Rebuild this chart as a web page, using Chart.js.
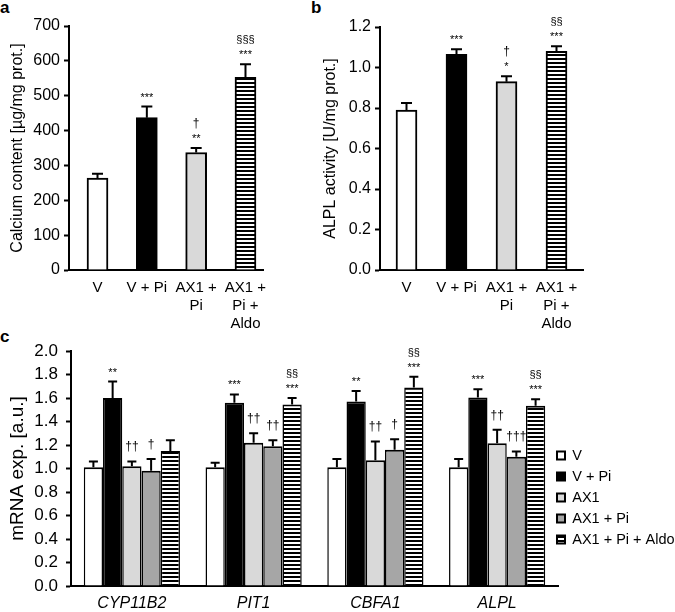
<!DOCTYPE html>
<html>
<head>
<meta charset="utf-8">
<script src="https://cdn.jsdelivr.net/npm/chart.js@4/dist/chart.umd.min.js"></script>
<style>
html,body{margin:0;padding:0;background:#fff;width:675px;height:612px;overflow:hidden;position:relative;font-family:'Liberation Sans',Arial,sans-serif}
canvas{position:absolute}
.lbl{position:absolute;font-weight:bold;font-size:17px;line-height:17px;color:#000}
</style>
</head>
<body>
<div class="lbl" style="left:0px;top:-1px">a</div>
<div class="lbl" style="left:311px;top:-1px">b</div>
<div class="lbl" style="left:0px;top:328px">c</div>
<canvas id="ca" width="300" height="335" style="left:0;top:0"></canvas>
<canvas id="cb" width="300" height="335" style="left:305px;top:0"></canvas>
<canvas id="cc" width="675" height="282" style="left:0;top:330px"></canvas>
<script>
// ---------------- data ----------------
const groupLabels = ['V', 'V + Pi', ['AX1 +', 'Pi'], ['AX1 +', 'Pi +', 'Aldo']];

const calciumMean = [264, 437, 337, 553];
const calciumSem  = [12, 32, 13, 37];
const calciumSig  = [[], ['***'], ['**', '†'], ['***', '§§§']];

const alplMean = [0.79, 1.065, 0.93, 1.08];
const alplSem  = [0.035, 0.025, 0.027, 0.025];
const alplSig  = [[], ['***'], ['*', '†'], ['***', '§§']];

const genes = ['CYP11B2', 'PIT1', 'CBFA1', 'ALPL'];
const seriesNames = ['V', 'V + Pi', 'AX1', 'AX1 + Pi', 'AX1 + Pi + Aldo'];

const mrnaV       = [1.01, 1.01, 1.01, 1.01];
const mrnaVPi     = [1.60, 1.56, 1.57, 1.605];
const mrnaAX1     = [1.02, 1.22, 1.07, 1.215];
const mrnaAX1Pi   = [0.98, 1.19, 1.16, 1.10];
const mrnaAldo    = [1.15, 1.545, 1.69, 1.535];

const semV     = [0.05, 0.04, 0.07, 0.07];
const semVPi   = [0.14, 0.07, 0.09, 0.07];
const semAX1   = [0.04, 0.08, 0.16, 0.115];
const semAX1Pi = [0.10, 0.05, 0.09, 0.045];
const semAldo  = [0.09, 0.055, 0.09, 0.055];

const sigV     = [[], [], [], []];
const sigVPi   = [['**'], ['***'], ['**'], ['***']];
const sigAX1   = [['††'], ['††'], ['††'], ['††']];
const sigAX1Pi = [['†'], ['††'], ['†'], ['†††']];
const sigAldo  = [[], ['***', '§§'], ['***', '§§'], ['***', '§§']];

// ---------------- styling ----------------
const FONT = "'Liberation Sans', Arial, sans-serif";
Chart.defaults.font.family = FONT;
Chart.defaults.color = '#000';
Chart.defaults.animation = false;

function makeHatch() {
  const c = document.createElement('canvas');
  c.width = 8; c.height = 4;
  const g = c.getContext('2d');
  g.fillStyle = '#fff'; g.fillRect(0, 0, 8, 4);
  g.fillStyle = '#000'; g.fillRect(0, 2, 8, 2);
  return g.createPattern(c, 'repeat');
}
const hatch = makeHatch();
const WHITE = '#ffffff', BLACK = '#000000', LGREY = '#d9d9d9', MGREY = '#a6a6a6';

// error bars + significance labels
const errSig = {
  id: 'errSig',
  afterDatasetsDraw(chart, args, opts) {
    const ctx = chart.ctx;
    const ys = chart.scales.y;
    chart.data.datasets.forEach((ds, di) => {
      const meta = chart.getDatasetMeta(di);
      meta.data.forEach((bar, i) => {
        const raw = ds.data[i];
        const val = (typeof raw === 'object') ? raw.y : raw;
        const base = ys.getPixelForValue(val);
        const top = ys.getPixelForValue(val + ds.sem[i]);
        ctx.save();
        ctx.strokeStyle = '#000';
        ctx.lineWidth = 2;
        ctx.beginPath();
        ctx.moveTo(bar.x, base);
        ctx.lineTo(bar.x, top);
        ctx.moveTo(bar.x - opts.cap / 2, top);
        ctx.lineTo(bar.x + opts.cap / 2, top);
        ctx.stroke();
        const lines = (ds.sig && ds.sig[i]) || [];
        let yb = top;
        let prevStar = false;
        lines.forEach((t, k) => {
          const star = t[0] === '*';
          if (k === 0) yb = top - (star ? 6 : 11);
          else yb -= (prevStar ? 15 : 13);
          ctx.font = (star ? '11px ' : (t[0] === '§' ? '11px ' : '12px ')) + FONT;
          ctx.fillStyle = '#000';
          ctx.textAlign = 'center';
          ctx.textBaseline = 'alphabetic';
          ctx.fillText(t, bar.x, yb);
          prevStar = star;
        });
        ctx.restore();
      });
    });
  }
};

function yAxis(min, max, step, title, width, titlePad, titleSize, tickSize, tickPad, decimals) {
  return {
    min: min, max: max,
    ticks: {
      stepSize: step, font: { size: tickSize }, padding: tickPad, color: '#000',
      callback: v => decimals ? Number(v).toFixed(decimals) : v
    },
    grid: { drawOnChartArea: false, drawTicks: true, tickLength: 5, tickColor: '#000', tickWidth: 2, color: '#000' },
    border: { display: true, color: '#000', width: 2 },
    title: { display: true, text: title, font: { size: titleSize }, color: '#000', padding: { top: titlePad, bottom: 0 } },
    afterFit: s => { s.width = width; }
  };
}

function xLinear(min, max) {
  return {
    type: 'linear', min: min, max: max, offset: false,
    afterBuildTicks: s => { s.ticks = groupLabels.map((c, i) => ({ value: i })); },
    ticks: { autoSkip: false, maxRotation: 0, font: { size: 15 }, padding: 9, color: '#000',
             callback: v => groupLabels[v] },
    grid: { display: false, drawTicks: false, offset: false },
    border: { display: true, color: '#000', width: 2 },
    afterFit: s => { s.height = 65; }
  };
}

function singleBars(means, sems, sigs) {
  return [{
    data: means.map((v, i) => ({ x: i, y: v })),
    sem: sems, sig: sigs,
    backgroundColor: [WHITE, BLACK, LGREY, hatch],
    borderColor: '#000', borderWidth: 2,
    barThickness: 21
  }];
}

// ---------------- panel a ----------------
new Chart(document.getElementById('ca'), {
  type: 'bar',
  data: { datasets: singleBars(calciumMean, calciumSem, calciumSig) },
  options: {
    responsive: false,
    layout: { padding: { top: 26, right: 37, left: 0, bottom: 0 } },
    plugins: { legend: { display: false }, tooltip: { enabled: false }, errSig: { cap: 11 } },
    scales: {
      x: xLinear(-0.578, 3.355),
      y: yAxis(0, 700, 100, 'Calcium content [µg/mg prot.]', 69, 8.4, 16, 16, 4, 0)
    }
  },
  plugins: [errSig]
});

// ---------------- panel b ----------------
new Chart(document.getElementById('cb'), {
  type: 'bar',
  data: { datasets: singleBars(alplMean, alplSem, alplSig) },
  options: {
    responsive: false,
    layout: { padding: { top: 27, right: 22, left: 0, bottom: 0 } },
    plugins: { legend: { display: false }, tooltip: { enabled: false }, errSig: { cap: 11 } },
    scales: {
      x: xLinear(-0.53, 3.53),
      y: yAxis(0, 1.2, 0.2, 'ALPL activity [U/mg prot.]', 75, 16.4, 16, 16, 4, 1)
    }
  },
  plugins: [errSig]
});

// ---------------- panel c ----------------
const extendAxis = {
  id: 'extendAxis',
  afterLayout(chart, args, opts) {
    const x = chart.scales.x;
    x.right = opts.right;
    x.width = x.right - x.left;
    x.configure();
    if (chart.legend) {
      chart.legend.top += opts.legendShift;
      chart.legend.bottom += opts.legendShift;
    }
  }
};

const groupBorder = { top: 2, left: 1.5, right: 1.5, bottom: 0 };
const mrnaSeries = [
  { label: seriesNames[0], data: mrnaV,     sem: semV,     sig: sigV,     backgroundColor: WHITE },
  { label: seriesNames[1], data: mrnaVPi,   sem: semVPi,   sig: sigVPi,   backgroundColor: BLACK },
  { label: seriesNames[2], data: mrnaAX1,   sem: semAX1,   sig: sigAX1,   backgroundColor: LGREY },
  { label: seriesNames[3], data: mrnaAX1Pi, sem: semAX1Pi, sig: sigAX1Pi, backgroundColor: MGREY },
  { label: seriesNames[4], data: mrnaAldo,  sem: semAldo,  sig: sigAldo,  backgroundColor: hatch }
].map(d => Object.assign(d, { borderColor: '#000', borderWidth: groupBorder, categoryPercentage: 0.79, barPercentage: 1.0 }));

new Chart(document.getElementById('cc'), {
  type: 'bar',
  data: { labels: genes, datasets: mrnaSeries },
  options: {
    responsive: false,
    layout: { padding: { top: 21, right: 0, left: 0, bottom: 0 } },
    plugins: {
      tooltip: { enabled: false },
      errSig: { cap: 9 },
      extendAxis: { right: 558, legendShift: 16 },
      legend: {
        position: 'right',
        maxWidth: 124.5,
        labels: {
          boxWidth: 8, boxHeight: 8, padding: 6.5, color: '#000',
          font: { size: 14.5 },
          generateLabels: chart => Chart.defaults.plugins.legend.labels.generateLabels(chart)
            .map(l => Object.assign(l, { lineWidth: 2, strokeStyle: '#000' }))
        }
      }
    },
    scales: {
      x: {
        type: 'category', offset: true,
        ticks: { font: { size: 16, style: 'italic' }, padding: 8, color: '#000' },
        grid: { display: false, drawTicks: false },
        border: { display: true, color: '#000', width: 2 },
        afterFit: s => { s.height = 26; }
      },
      y: yAxis(0, 2.0, 0.2, 'mRNA exp. [a.u.]', 71, 6, 19, 17, 8, 1)
    }
  },
  plugins: [errSig, extendAxis]
});
</script>
</body>
</html>
